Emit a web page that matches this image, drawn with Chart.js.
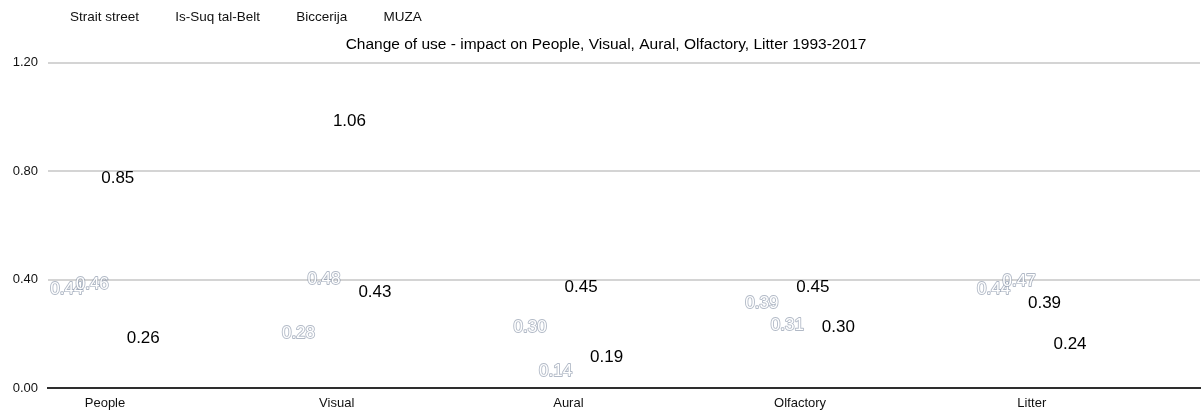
<!DOCTYPE html>
<html>
<head>
<meta charset="utf-8">
<script src="https://cdn.jsdelivr.net/npm/chart.js@4.4.1/dist/chart.umd.min.js"></script>
<style>
  html, body { margin: 0; padding: 0; background: #ffffff; }
  #wrap { width: 1203px; height: 412px; position: relative; }
</style>
</head>
<body>
<div id="wrap"><canvas id="c"></canvas></div>
<script>
const categories = ['People', 'Visual', 'Aural', 'Olfactory', 'Litter'];
const seriesNames = ['Strait street', 'Is-Suq tal-Belt', 'Biccerija', 'MUZA'];
const straitStreet = [0.44, 0.28, 0.30, 0.39, 0.44];
const isSuqTalBelt = [0.46, 0.48, 0.14, 0.31, 0.47];
const biccerija = [0.85, 1.06, 0.45, 0.45, 0.39];
const muza = [0.26, 0.43, 0.19, 0.30, 0.24];
const yTicks = [0, 0.4, 0.8, 1.2];
const titleText = 'Change of use - impact on People, Visual, Aural, Olfactory, Litter 1993-2017';

const FONT = '"Liberation Sans", Arial, Helvetica, sans-serif';
const seriesValues = [straitStreet, isSuqTalBelt, biccerija, muza];

const datasets = seriesNames.map((name, s) => ({
  label: name,
  data: categories.map((c, i) => ({ x: i, y: seriesValues[s][i] })),
  backgroundColor: 'rgba(0,0,0,0)',
  borderColor: 'rgba(0,0,0,0)',
  borderWidth: 0,
  barPercentage: 1,
  categoryPercentage: 0.44
}));

const valueLabels = {
  id: 'valueLabels',
  afterDatasetsDraw(chart) {
    const ctx = chart.ctx;
    ctx.save();
    ctx.font = '17px ' + FONT;
    ctx.textAlign = 'center';
    ctx.textBaseline = 'middle';
    chart.data.datasets.forEach((ds, di) => {
      const meta = chart.getDatasetMeta(di);
      meta.data.forEach((bar, i) => {
        const txt = ds.data[i].y.toFixed(2);
        const x = bar.x, y = bar.y + 21;
        if (di < 2) {
          ctx.lineJoin = 'round';
          ctx.lineWidth = 1.8;
          ctx.strokeStyle = 'rgba(125,138,160,0.6)';
          ctx.strokeText(txt, x, y);
          ctx.fillStyle = '#ffffff';
          ctx.fillText(txt, x, y);
        } else {
          ctx.fillStyle = '#000000';
          ctx.fillText(txt, x, y);
        }
      });
    });
    ctx.restore();
  }
};

const shiftBoxes = {
  id: 'shiftBoxes',
  afterLayout(chart) {
    const l = chart.legend;
    if (l) { l.left += 33.75; l.right += 33.75; }
    const t = chart.titleBlock;
    if (t) { t.left += 6; t.right += 6; }
  }
};

new Chart(document.getElementById('c'), {
  type: 'bar',
  data: { datasets },
  options: {
    responsive: true,
    maintainAspectRatio: false,
    animation: false,
    color: '#111111',
    layout: { padding: { top: 0, right: 3, bottom: 0, left: 0 } },
    plugins: {
      legend: {
        position: 'top',
        align: 'start',
        weight: 3000,
        labels: {
          boxWidth: 19,
          boxHeight: 0,
          padding: 10.5,
          color: '#111111',
          font: { family: FONT, size: 13.5 }
        }
      },
      title: {
        display: true,
        text: titleText,
        color: '#000000',
        font: { family: FONT, size: 15.5, weight: 'normal' },
        padding: { top: 1.25, bottom: 9 }
      },
      tooltip: { enabled: false }
    },
    scales: {
      x: {
        type: 'linear',
        min: -0.246,
        max: 4.726,
        offset: false,
        afterBuildTicks(scale) {
          scale.ticks = categories.map((c, i) => ({ value: i }));
        },
        afterFit(scale) { scale.height = 24; },
        ticks: {
          padding: 8,
          color: '#111111',
          font: { family: FONT, size: 13 },
          maxRotation: 0,
          autoSkip: false,
          callback: (v) => categories[v] !== undefined ? categories[v] : ''
        },
        grid: { display: false, drawTicks: false, offset: false },
        border: { display: true, color: '#2e2e2e', width: 2 }
      },
      y: {
        min: 0,
        max: 1.2,
        afterBuildTicks(scale) {
          scale.ticks = yTicks.map(v => ({ value: v }));
        },
        afterFit(scale) { scale.width = 48; },
        ticks: {
          padding: 10,
          color: '#111111',
          font: { family: FONT, size: 13 },
          callback: (v) => Number(v).toFixed(2)
        },
        grid: {
          drawTicks: false,
          lineWidth: 2,
          color: (ctx) => (ctx.tick && ctx.tick.value === 0) ? 'rgba(0,0,0,0)' : '#d4d4d4'
        },
        border: { display: false }
      }
    }
  },
  plugins: [valueLabels, shiftBoxes]
});
</script>
</body>
</html>
